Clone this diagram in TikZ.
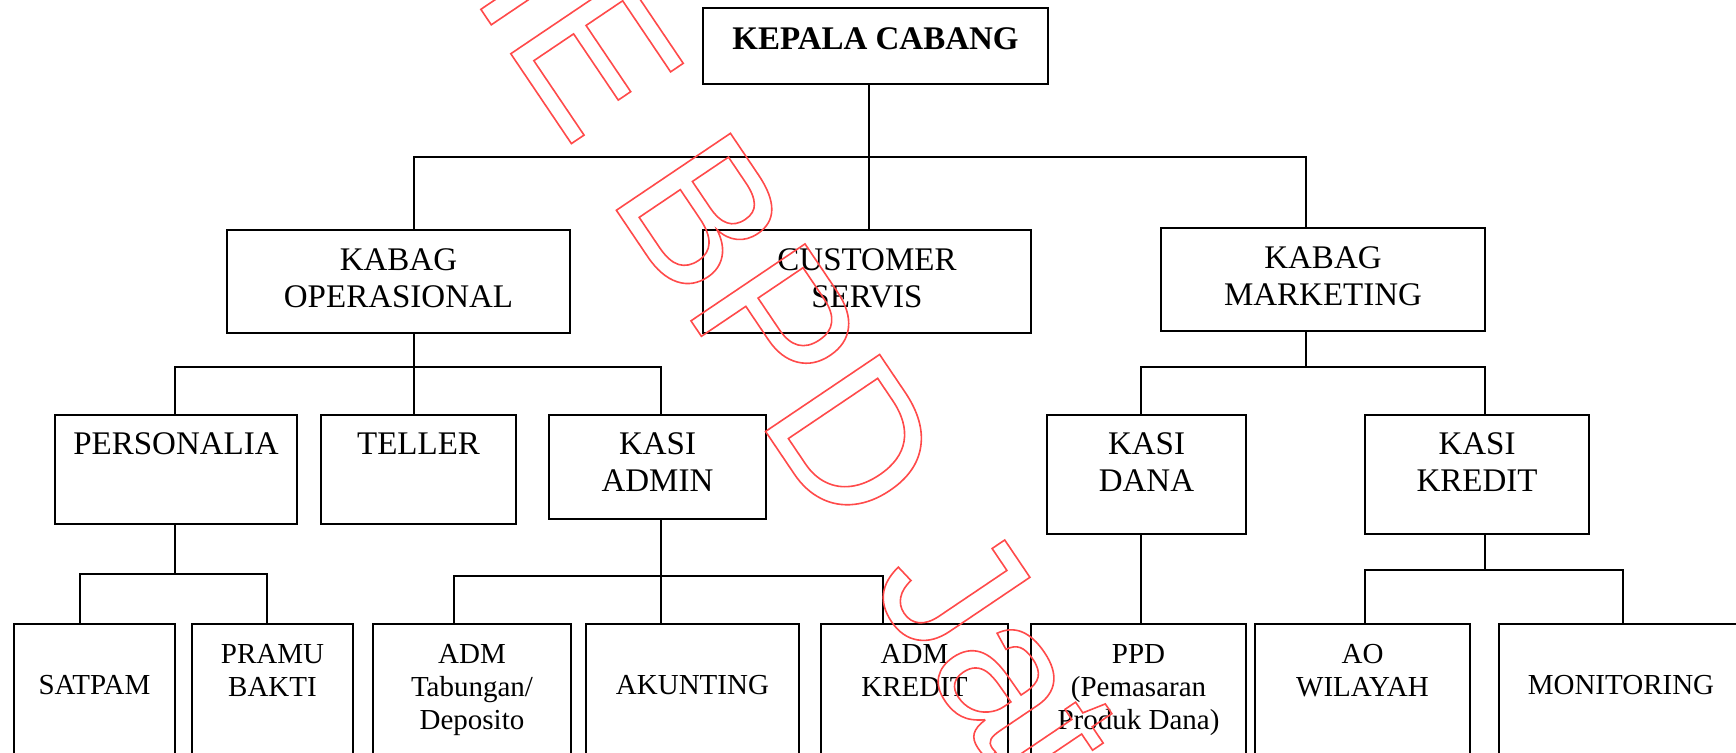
\documentclass[tikz,border=0pt]{standalone}
\usepackage{fontspec}
\setmainfont{Liberation Serif}
\newfontfamily\stampfont{Liberation Sans}
\definecolor{Ink}{HTML}{000000}
\definecolor{Stamp}{HTML}{FF4B4B}
\newcommand{\stampline}[1]{\special{pdf:literal direct 1 Tr 0.8 w 1 0.29 0.29 RG}#1\special{pdf:literal direct 0 Tr}}
\tikzset{unit/.style={draw=Ink,line width=1pt,anchor=north,inner sep=0pt,align=center},chief/.style={unit,font=\fontsize{16.5}{18.5}\selectfont\bfseries,text height=20.75pt,text depth=17.25pt},bagian/.style={unit,font=\fontsize{16.5}{18.5}\selectfont,text height=38.85pt,text depth=12.65pt},seksi/.style={unit,font=\fontsize{16.5}{18.5}\selectfont,text height=19.65pt},seksidua/.style={seksi,text height=38.15pt},staf/.style={unit,font=\fontsize{14.5}{16.5}\selectfont,text height=35pt,text depth=38pt},stafdua/.style={staf,text height=36pt,text depth=37pt},staftiga/.style={staf,text height=52.5pt,text depth=20.5pt},link/.style={draw=Ink,line width=.9pt},stamp/.style={font=\stampfont\fontsize{100}{100}\selectfont,text=Stamp,inner sep=0pt}}

\begin{document}
\begin{tikzpicture}[x=.5pt,y=-.5pt]
  \useasboundingbox (0,0) rectangle (1736,752);
  % pimpinan
  \node[chief,minimum width=172.5pt] (kc) at (875.5,7) {KEPALA CABANG};
  \node[bagian,minimum width=171.5pt] (ko) at (398.5,229) {KABAG\\OPERASIONAL};
  \node[bagian,minimum width=164pt] (cs) at (867,229) {CUSTOMER\\SERVIS};
  \node[bagian,minimum width=162pt] (km) at (1323,227) {KABAG\\MARKETING};
  % seksi
  \node[seksi,minimum width=121pt,text depth=34.85pt] (pers) at (176,414) {PERSONALIA};
  \node[seksi,minimum width=97.5pt,text depth=34.85pt] (tel) at (418.5,414) {TELLER};
  \node[seksidua,minimum width=108.5pt,text depth=13.85pt] (kadm) at (657.5,414) {KASI\\ADMIN};
  \node[seksidua,minimum width=99.5pt,text depth=21.35pt] (kdana) at (1146.5,414) {KASI\\DANA};
  \node[seksidua,minimum width=112pt,text depth=21.35pt] (kkred) at (1477,414) {KASI\\KREDIT};
  % staf
  \node[staf,minimum width=80.5pt] (satpam) at (94.5,623) {SATPAM};
  \node[stafdua,minimum width=80.5pt] (pramu) at (272.5,623) {PRAMU\\BAKTI};
  \node[staftiga,minimum width=99pt] (admtab) at (472,623) {ADM\\Tabungan/\\Deposito};
  \node[staf,minimum width=106.5pt] (akun) at (692.5,623) {AKUNTING};
  \node[stafdua,minimum width=93.5pt] (admkre) at (914.5,623) {ADM\\KREDIT};
  \node[staftiga,minimum width=107.5pt] (ppd) at (1138.5,623) {PPD\\(Pemasaran\\Produk Dana)};
  \node[stafdua,minimum width=107.5pt] (ao) at (1362.5,623) {AO\\WILAYAH};
  \node[staf,minimum width=122pt] (mon) at (1621,623) {MONITORING};
  % garis
  \coordinate (b1l) at (414,157);
  \coordinate (b1m) at (869,157);
  \coordinate (b1r) at (1306,157);
  \draw[link] (kc.south -| b1m) -- (cs.north -| b1m);
  \draw[link] (ko.north -| b1l) |- (b1r) -- (km.north -| b1r);
  \coordinate (b2l) at (175,367);
  \coordinate (b2m) at (414,367);
  \coordinate (b2r) at (661,367);
  \draw[link] (ko.south -| b2m) -- (tel.north -| b2m);
  \draw[link] (pers.north -| b2l) |- (b2r) -- (kadm.north -| b2r);
  \coordinate (b3l) at (1141,367);
  \coordinate (b3m) at (1306,367);
  \coordinate (b3r) at (1485,367);
  \draw[link] (km.south -| b3m) -- (b3m);
  \draw[link] (kdana.north -| b3l) |- (b3r) -- (kkred.north -| b3r);
  \coordinate (b4l) at (80,574);
  \coordinate (b4m) at (175,574);
  \coordinate (b4r) at (267,574);
  \draw[link] (pers.south -| b4m) -- (b4m);
  \draw[link] (satpam.north -| b4l) |- (b4r) -- (pramu.north -| b4r);
  \coordinate (b5l) at (454,576);
  \coordinate (b5m) at (661,576);
  \coordinate (b5r) at (883,576);
  \draw[link] (kadm.south -| b5m) -- (akun.north -| b5m);
  \draw[link] (admtab.north -| b5l) |- (b5r) -- (admkre.north -| b5r);
  \draw[link] (kdana.south -| b3l) -- (ppd.north -| b3l);
  \coordinate (b7l) at (1365,570);
  \coordinate (b7m) at (1485,570);
  \coordinate (b7r) at (1623,570);
  \draw[link] (kkred.south -| b7m) -- (b7m);
  \draw[link] (ao.north -| b7l) |- (b7r) -- (mon.north -| b7r);
  % cap air
  \node[stamp,rotate=-56,anchor=base west] (mark) at (470.3,-6.3) {\stampline{IE BPD Jat}};
\end{tikzpicture}
\end{document}
